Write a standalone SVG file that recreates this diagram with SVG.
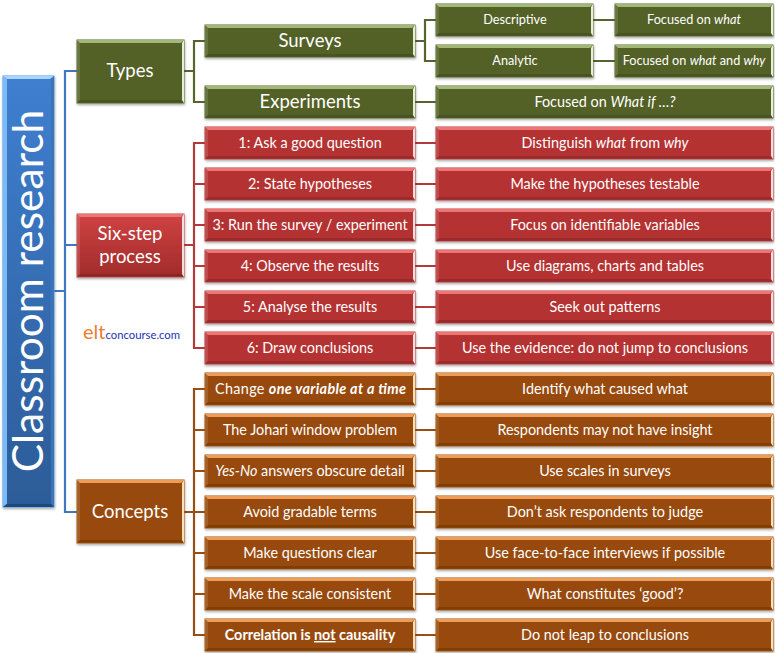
<svg xmlns="http://www.w3.org/2000/svg" width="775" height="653" viewBox="0 0 775 653">
<style>
text{font-family:Lato,"Liberation Sans",sans-serif;fill:#fff;text-anchor:middle}
.s{font-size:14.4px}.m{font-size:18.5px}.x{font-size:12.7px}
.c{fill:none;stroke-width:2.2}
.cg{stroke:#56652e}.cr{stroke:#b33a3a}.co{stroke:#984f14}.cb{stroke:#4177c0}
.g{fill:#526127;stroke:#5f7030;stroke-width:1}.r{fill:#b53333;stroke:#bd4040;stroke-width:1}.o{fill:#984807;stroke:#a55a18;stroke-width:1}
.tg{fill:#a3b878}.tr{fill:#ee7474}.to{fill:#ee9d58}
.h{fill:#e8efd8}.hr{fill:#f7dede}.ho{fill:#fbe0b8}
.l{fill:#fff;opacity:.12}.d{fill:#000;opacity:.14}
.i{font-style:italic}
</style>
<defs>
<filter id="sh" x="-5%" y="-10%" width="110%" height="125%"><feDropShadow dx="0.5" dy="1.5" stdDeviation="1" flood-color="#000" flood-opacity=".35"/></filter>
<linearGradient id="gb" x1="0" y1="0" x2="0" y2="1"><stop offset="0" stop-color="#3f7fd0"/><stop offset="1" stop-color="#2c5c98"/></linearGradient>
<linearGradient id="gr" x1="0" y1="0" x2="0" y2="1"><stop offset="0" stop-color="#cf4242"/><stop offset="1" stop-color="#a12b2b"/></linearGradient>
</defs>
<g id="connectors">
<path class="c cb" d="M54 291H65M77 71H65V512H77M65 245H77"/>
<path class="c cg" d="M184 71H194M205 41H194V102H205M415 41H425M436 20H425V61H436M593 20H615M593 61H615M415 102H436"/>
<path class="c cr" d="M184 245H194M205 143H194V348H205M194 184H205M194 225H205M194 266H205M194 307H205M415 143H436M415 184H436M415 225H436M415 266H436M415 307H436M415 348H436"/>
<path class="c co" d="M184 512H194M205 389H194V635H205M194 430H205M194 471H205M194 553H205M194 594H205M194 512H205M415 389H436M415 430H436M415 471H436M415 512H436M415 553H436M415 594H436M415 635H436"/>
</g>
<g id="root"><g filter="url(#sh)"><rect x="3" y="76" width="51" height="431" fill="url(#gb)" stroke="#5b9be0"/><path d="M3 76H54L50 79H7Z" fill="#a8d4ff"/><path d="M3 76L7 79V504L3 507Z" fill="#7cbaf5"/><path d="M54 76L51 79V504L54 507Z" fill="#3a74b8"/><path d="M3 507L7 504H51L54 507Z" fill="#1f4a7c"/></g><text transform="translate(43 291) rotate(-90)" style="font-size:42.5px">Classroom research</text></g>
<g id="types"><g filter="url(#sh)"><rect class="g" x="77" y="40" width="107" height="63"/><path class="tg" d="M77 40H184L181 43H80Z"/><path class="l" d="M77 40L80 43V100L77 103Z"/><path class="d" d="M77 103L80 100H181L184 103Z"/><path class="h" d="M184 40V103L182 100V43Z"/></g><text class="m" x="130" y="77">Types</text></g>
<g id="six"><g filter="url(#sh)"><rect x="77" y="214" width="107" height="63" fill="url(#gr)" stroke="#c24a4a"/><path class="tr" d="M77 214H184L181 217H80Z"/><path class="l" d="M77 214L80 217V274L77 277Z"/><path class="d" d="M77 277L80 274H181L184 277Z"/><path class="hr" d="M184 214V277L182 274V217Z"/></g><text class="m" x="130" y="240">Six-step</text><text class="m" x="130" y="263">process</text></g>
<g id="concepts"><g filter="url(#sh)"><rect class="o" x="77" y="480" width="107" height="63"/><path class="to" d="M77 480H184L181 483H80Z"/><path class="l" d="M77 480L80 483V540L77 543Z"/><path class="d" d="M77 543L80 540H181L184 543Z"/><path class="ho" d="M184 480V543L182 540V483Z"/></g><text class="m" x="130" y="518">Concepts</text></g>
<g id="surveys"><g filter="url(#sh)"><rect class="g" x="205" y="25" width="210" height="32"/><path class="tg" d="M205 25H415L412 28H208Z"/><path class="l" d="M205 25L208 28V54L205 57Z"/><path class="d" d="M205 57L208 54H412L415 57Z"/><path class="h" d="M415 25V57L413 54V28Z"/></g><text class="m" x="310" y="47">Surveys</text></g>
<g id="experiments"><g filter="url(#sh)"><rect class="g" x="205" y="86" width="210" height="32"/><path class="tg" d="M205 86H415L412 89H208Z"/><path class="l" d="M205 86L208 89V115L205 118Z"/><path class="d" d="M205 118L208 115H412L415 118Z"/><path class="h" d="M415 86V118L413 115V89Z"/></g><text class="m" x="310" y="108">Experiments</text></g>
<g id="descriptive"><g filter="url(#sh)"><rect class="g" x="436" y="4" width="157" height="32"/><path class="tg" d="M436 4H593L590 7H439Z"/><path class="l" d="M436 4L439 7V33L436 36Z"/><path class="d" d="M436 36L439 33H590L593 36Z"/><path class="h" d="M593 4V36L591 33V7Z"/></g><text class="x" x="515" y="24">Descriptive</text></g>
<g id="analytic"><g filter="url(#sh)"><rect class="g" x="436" y="45" width="157" height="32"/><path class="tg" d="M436 45H593L590 48H439Z"/><path class="l" d="M436 45L439 48V74L436 77Z"/><path class="d" d="M436 77L439 74H590L593 77Z"/><path class="h" d="M593 45V77L591 74V48Z"/></g><text class="x" x="515" y="65">Analytic</text></g>
<g id="focus-what"><g filter="url(#sh)"><rect class="g" x="615" y="4" width="158" height="32"/><path class="tg" d="M615 4H773L770 7H618Z"/><path class="l" d="M615 4L618 7V33L615 36Z"/><path class="d" d="M615 36L618 33H770L773 36Z"/><path class="h" d="M773 4V36L771 33V7Z"/></g><text class="x" x="694" y="24">Focused on <tspan class="i">what</tspan></text></g>
<g id="focus-why"><g filter="url(#sh)"><rect class="g" x="615" y="45" width="158" height="32"/><path class="tg" d="M615 45H773L770 48H618Z"/><path class="l" d="M615 45L618 48V74L615 77Z"/><path class="d" d="M615 77L618 74H770L773 77Z"/><path class="h" d="M773 45V77L771 74V48Z"/></g><text class="x" x="694" y="65">Focused on <tspan class="i">what</tspan> and <tspan class="i">why</tspan></text></g>
<g id="focus-if"><g filter="url(#sh)"><rect class="g" x="436" y="86" width="337" height="32"/><path class="tg" d="M436 86H773L770 89H439Z"/><path class="l" d="M436 86L439 89V115L436 118Z"/><path class="d" d="M436 118L439 115H770L773 118Z"/><path class="h" d="M773 86V118L771 115V89Z"/></g><text class="s" x="605" y="107">Focused on <tspan class="i">What if …?</tspan></text></g>
<g id="s1"><g filter="url(#sh)"><rect class="r" x="205" y="127" width="210" height="32"/><path class="tr" d="M205 127H415L412 130H208Z"/><path class="l" d="M205 127L208 130V156L205 159Z"/><path class="d" d="M205 159L208 156H412L415 159Z"/><path class="hr" d="M415 127V159L413 156V130Z"/></g><text class="s" x="310" y="148">1: Ask a good question</text></g>
<g id="s2"><g filter="url(#sh)"><rect class="r" x="205" y="168" width="210" height="32"/><path class="tr" d="M205 168H415L412 171H208Z"/><path class="l" d="M205 168L208 171V197L205 200Z"/><path class="d" d="M205 200L208 197H412L415 200Z"/><path class="hr" d="M415 168V200L413 197V171Z"/></g><text class="s" x="310" y="189">2: State hypotheses</text></g>
<g id="s3"><g filter="url(#sh)"><rect class="r" x="205" y="209" width="210" height="32"/><path class="tr" d="M205 209H415L412 212H208Z"/><path class="l" d="M205 209L208 212V238L205 241Z"/><path class="d" d="M205 241L208 238H412L415 241Z"/><path class="hr" d="M415 209V241L413 238V212Z"/></g><text class="s" x="310" y="230">3: Run the survey / experiment</text></g>
<g id="s4"><g filter="url(#sh)"><rect class="r" x="205" y="250" width="210" height="32"/><path class="tr" d="M205 250H415L412 253H208Z"/><path class="l" d="M205 250L208 253V279L205 282Z"/><path class="d" d="M205 282L208 279H412L415 282Z"/><path class="hr" d="M415 250V282L413 279V253Z"/></g><text class="s" x="310" y="271">4: Observe the results</text></g>
<g id="s5"><g filter="url(#sh)"><rect class="r" x="205" y="291" width="210" height="32"/><path class="tr" d="M205 291H415L412 294H208Z"/><path class="l" d="M205 291L208 294V320L205 323Z"/><path class="d" d="M205 323L208 320H412L415 323Z"/><path class="hr" d="M415 291V323L413 320V294Z"/></g><text class="s" x="310" y="312">5: Analyse the results</text></g>
<g id="s6"><g filter="url(#sh)"><rect class="r" x="205" y="332" width="210" height="32"/><path class="tr" d="M205 332H415L412 335H208Z"/><path class="l" d="M205 332L208 335V361L205 364Z"/><path class="d" d="M205 364L208 361H412L415 364Z"/><path class="hr" d="M415 332V364L413 361V335Z"/></g><text class="s" x="310" y="353">6: Draw conclusions</text></g>
<g id="r1"><g filter="url(#sh)"><rect class="r" x="436" y="127" width="337" height="32"/><path class="tr" d="M436 127H773L770 130H439Z"/><path class="l" d="M436 127L439 130V156L436 159Z"/><path class="d" d="M436 159L439 156H770L773 159Z"/><path class="hr" d="M773 127V159L771 156V130Z"/></g><text class="s" x="605" y="148">Distinguish <tspan class="i">what</tspan> from <tspan class="i">why</tspan></text></g>
<g id="r2"><g filter="url(#sh)"><rect class="r" x="436" y="168" width="337" height="32"/><path class="tr" d="M436 168H773L770 171H439Z"/><path class="l" d="M436 168L439 171V197L436 200Z"/><path class="d" d="M436 200L439 197H770L773 200Z"/><path class="hr" d="M773 168V200L771 197V171Z"/></g><text class="s" x="605" y="189">Make the hypotheses testable</text></g>
<g id="r3"><g filter="url(#sh)"><rect class="r" x="436" y="209" width="337" height="32"/><path class="tr" d="M436 209H773L770 212H439Z"/><path class="l" d="M436 209L439 212V238L436 241Z"/><path class="d" d="M436 241L439 238H770L773 241Z"/><path class="hr" d="M773 209V241L771 238V212Z"/></g><text class="s" x="605" y="230">Focus on identifiable variables</text></g>
<g id="r4"><g filter="url(#sh)"><rect class="r" x="436" y="250" width="337" height="32"/><path class="tr" d="M436 250H773L770 253H439Z"/><path class="l" d="M436 250L439 253V279L436 282Z"/><path class="d" d="M436 282L439 279H770L773 282Z"/><path class="hr" d="M773 250V282L771 279V253Z"/></g><text class="s" x="605" y="271">Use diagrams, charts and tables</text></g>
<g id="r5"><g filter="url(#sh)"><rect class="r" x="436" y="291" width="337" height="32"/><path class="tr" d="M436 291H773L770 294H439Z"/><path class="l" d="M436 291L439 294V320L436 323Z"/><path class="d" d="M436 323L439 320H770L773 323Z"/><path class="hr" d="M773 291V323L771 320V294Z"/></g><text class="s" x="605" y="312">Seek out patterns</text></g>
<g id="r6"><g filter="url(#sh)"><rect class="r" x="436" y="332" width="337" height="32"/><path class="tr" d="M436 332H773L770 335H439Z"/><path class="l" d="M436 332L439 335V361L436 364Z"/><path class="d" d="M436 364L439 361H770L773 364Z"/><path class="hr" d="M773 332V364L771 361V335Z"/></g><text class="s" x="605" y="353">Use the evidence: do not jump to conclusions</text></g>
<g id="c1"><g filter="url(#sh)"><rect class="o" x="205" y="373" width="210" height="32"/><path class="to" d="M205 373H415L412 376H208Z"/><path class="l" d="M205 373L208 376V402L205 405Z"/><path class="d" d="M205 405L208 402H412L415 405Z"/><path class="ho" d="M415 373V405L413 402V376Z"/></g><text class="s" x="310.500" y="394" textLength="191">Change <tspan class="i" font-weight="700">one variable at a time</tspan></text></g>
<g id="c2"><g filter="url(#sh)"><rect class="o" x="205" y="414" width="210" height="32"/><path class="to" d="M205 414H415L412 417H208Z"/><path class="l" d="M205 414L208 417V443L205 446Z"/><path class="d" d="M205 446L208 443H412L415 446Z"/><path class="ho" d="M415 414V446L413 443V417Z"/></g><text class="s" x="310" y="435">The Johari window problem</text></g>
<g id="c3"><g filter="url(#sh)"><rect class="o" x="205" y="455" width="210" height="32"/><path class="to" d="M205 455H415L412 458H208Z"/><path class="l" d="M205 455L208 458V484L205 487Z"/><path class="d" d="M205 487L208 484H412L415 487Z"/><path class="ho" d="M415 455V487L413 484V458Z"/></g><text class="s" x="310" y="476"><tspan class="i">Yes-No</tspan> answers obscure detail</text></g>
<g id="c4"><g filter="url(#sh)"><rect class="o" x="205" y="496" width="210" height="32"/><path class="to" d="M205 496H415L412 499H208Z"/><path class="l" d="M205 496L208 499V525L205 528Z"/><path class="d" d="M205 528L208 525H412L415 528Z"/><path class="ho" d="M415 496V528L413 525V499Z"/></g><text class="s" x="310" y="517">Avoid gradable terms</text></g>
<g id="c5"><g filter="url(#sh)"><rect class="o" x="205" y="537" width="210" height="32"/><path class="to" d="M205 537H415L412 540H208Z"/><path class="l" d="M205 537L208 540V566L205 569Z"/><path class="d" d="M205 569L208 566H412L415 569Z"/><path class="ho" d="M415 537V569L413 566V540Z"/></g><text class="s" x="310" y="558">Make questions clear</text></g>
<g id="c6"><g filter="url(#sh)"><rect class="o" x="205" y="578" width="210" height="32"/><path class="to" d="M205 578H415L412 581H208Z"/><path class="l" d="M205 578L208 581V607L205 610Z"/><path class="d" d="M205 610L208 607H412L415 610Z"/><path class="ho" d="M415 578V610L413 607V581Z"/></g><text class="s" x="310" y="599">Make the scale consistent</text></g>
<g id="c7"><g filter="url(#sh)"><rect class="o" x="205" y="619" width="210" height="32"/><path class="to" d="M205 619H415L412 622H208Z"/><path class="l" d="M205 619L208 622V648L205 651Z"/><path class="d" d="M205 651L208 648H412L415 651Z"/><path class="ho" d="M415 619V651L413 648V622Z"/></g><text class="s" x="310" y="640" font-weight="700">Correlation is <tspan text-decoration="underline">not</tspan> causality</text></g>
<g id="d1"><g filter="url(#sh)"><rect class="o" x="436" y="373" width="337" height="32"/><path class="to" d="M436 373H773L770 376H439Z"/><path class="l" d="M436 373L439 376V402L436 405Z"/><path class="d" d="M436 405L439 402H770L773 405Z"/><path class="ho" d="M773 373V405L771 402V376Z"/></g><text class="s" x="605" y="394">Identify what caused what</text></g>
<g id="d2"><g filter="url(#sh)"><rect class="o" x="436" y="414" width="337" height="32"/><path class="to" d="M436 414H773L770 417H439Z"/><path class="l" d="M436 414L439 417V443L436 446Z"/><path class="d" d="M436 446L439 443H770L773 446Z"/><path class="ho" d="M773 414V446L771 443V417Z"/></g><text class="s" x="605" y="435">Respondents may not have insight</text></g>
<g id="d3"><g filter="url(#sh)"><rect class="o" x="436" y="455" width="337" height="32"/><path class="to" d="M436 455H773L770 458H439Z"/><path class="l" d="M436 455L439 458V484L436 487Z"/><path class="d" d="M436 487L439 484H770L773 487Z"/><path class="ho" d="M773 455V487L771 484V458Z"/></g><text class="s" x="605" y="476">Use scales in surveys</text></g>
<g id="d4"><g filter="url(#sh)"><rect class="o" x="436" y="496" width="337" height="32"/><path class="to" d="M436 496H773L770 499H439Z"/><path class="l" d="M436 496L439 499V525L436 528Z"/><path class="d" d="M436 528L439 525H770L773 528Z"/><path class="ho" d="M773 496V528L771 525V499Z"/></g><text class="s" x="605" y="517">Don’t ask respondents to judge</text></g>
<g id="d5"><g filter="url(#sh)"><rect class="o" x="436" y="537" width="337" height="32"/><path class="to" d="M436 537H773L770 540H439Z"/><path class="l" d="M436 537L439 540V566L436 569Z"/><path class="d" d="M436 569L439 566H770L773 569Z"/><path class="ho" d="M773 537V569L771 566V540Z"/></g><text class="s" x="605" y="558">Use face-to-face interviews if possible</text></g>
<g id="d6"><g filter="url(#sh)"><rect class="o" x="436" y="578" width="337" height="32"/><path class="to" d="M436 578H773L770 581H439Z"/><path class="l" d="M436 578L439 581V607L436 610Z"/><path class="d" d="M436 610L439 607H770L773 610Z"/><path class="ho" d="M773 578V610L771 607V581Z"/></g><text class="s" x="605" y="599">What constitutes ‘good’?</text></g>
<g id="d7"><g filter="url(#sh)"><rect class="o" x="436" y="619" width="337" height="32"/><path class="to" d="M436 619H773L770 622H439Z"/><path class="l" d="M436 619L439 622V648L436 651Z"/><path class="d" d="M436 651L439 648H770L773 651Z"/><path class="ho" d="M773 619V651L771 648V622Z"/></g><text class="s" x="605" y="640">Do not leap to conclusions</text></g>
<text id="logo" x="83" y="339" style="text-anchor:start;font-size:20px;fill:#ed7d31">elt<tspan style="font-size:11.3px;fill:#2233b8">concourse.com</tspan></text>
</svg>
